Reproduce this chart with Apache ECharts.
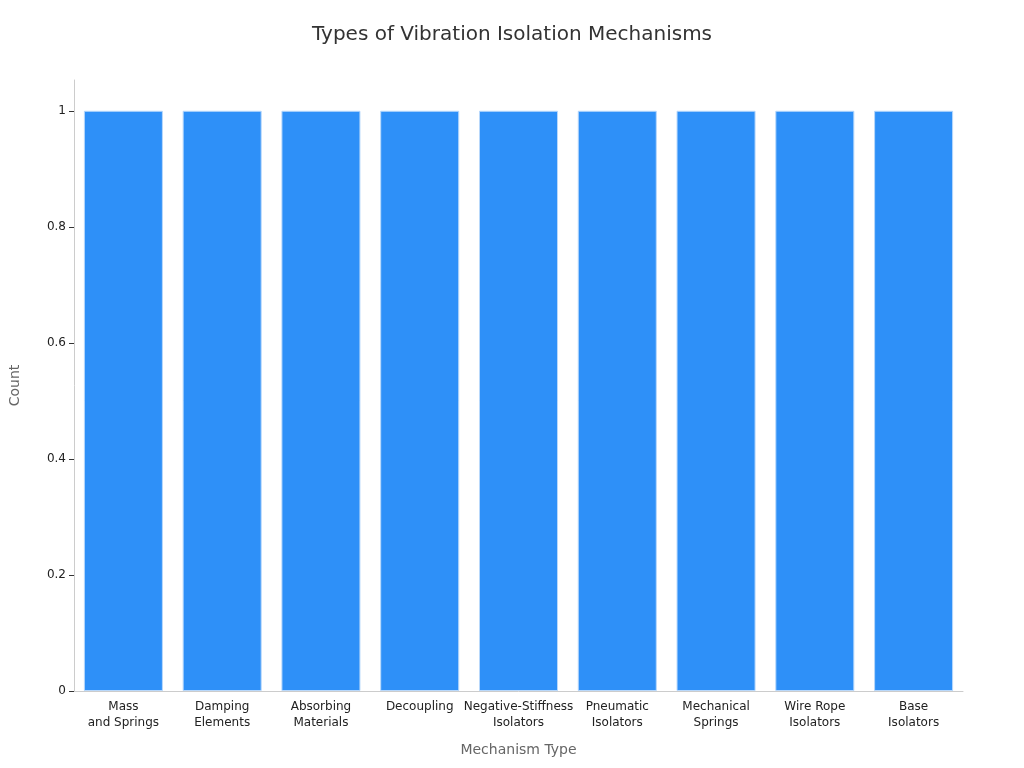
<!DOCTYPE html>
<html>
<head>
<meta charset="utf-8">
<script src="https://cdn.jsdelivr.net/npm/echarts@6/dist/echarts.min.js"></script>
<style>html,body{margin:0;padding:0}#chart{width:1024px;height:768px}</style>
</head>
<body>
<div id="chart"></div>
<script>
const categories = ["Mass\nand Springs", "Damping\nElements", "Absorbing\nMaterials", "Decoupling",
    "Negative-Stiffness\nIsolators", "Pneumatic\nIsolators", "Mechanical\nSprings", "Wire Rope\nIsolators", "Base\nIsolators"]
const counts = [1, 1, 1, 1, 1, 1, 1, 1, 1]

const chart = echarts.init(document.getElementById("chart"))
chart.setOption({
    textStyle: { fontFamily: "DejaVu Sans" },
    title: {
        text: "Types of Vibration Isolation Mechanisms",
        left: "center", top: 20,
        textStyle: { fontSize: 20, fontWeight: "normal", color: "#333" }
    },
    grid: { left: 64, right: 61, top: 80, bottom: 77 },
    xAxis: {
        type: "category",
        data: categories,
        name: "Mechanism Type",
        nameLocation: "middle",
        nameGap: 52,
        nameTextStyle: { fontSize: 14, color: "#666" },
        axisLine: { lineStyle: { color: "#ccc" } },
        axisTick: { show: false },
        axisLabel: { fontSize: 12, color: "#222", interval: 0, lineHeight: 16 }
    },
    yAxis: {
        type: "value",
        min: 0, max: 1.053, interval: 0.2,
        name: "Count",
        nameLocation: "middle",
        nameGap: 52,
        nameTextStyle: { fontSize: 14, color: "#666" },
        axisLine: { show: true, lineStyle: { color: "#ccc" } },
        axisTick: { show: true, lineStyle: { color: "#333" } },
        axisLabel: { fontSize: 12, color: "#222", showMaxLabel: false },
        splitLine: { show: false }
    },
    series: [{
        type: "bar",
        data: counts,
        barCategoryGap: "20%",
        itemStyle: { color: "#2e90f8", borderColor: "#b8d8fb", borderWidth: 1 }
    }]
})
</script>
</body>
</html>
